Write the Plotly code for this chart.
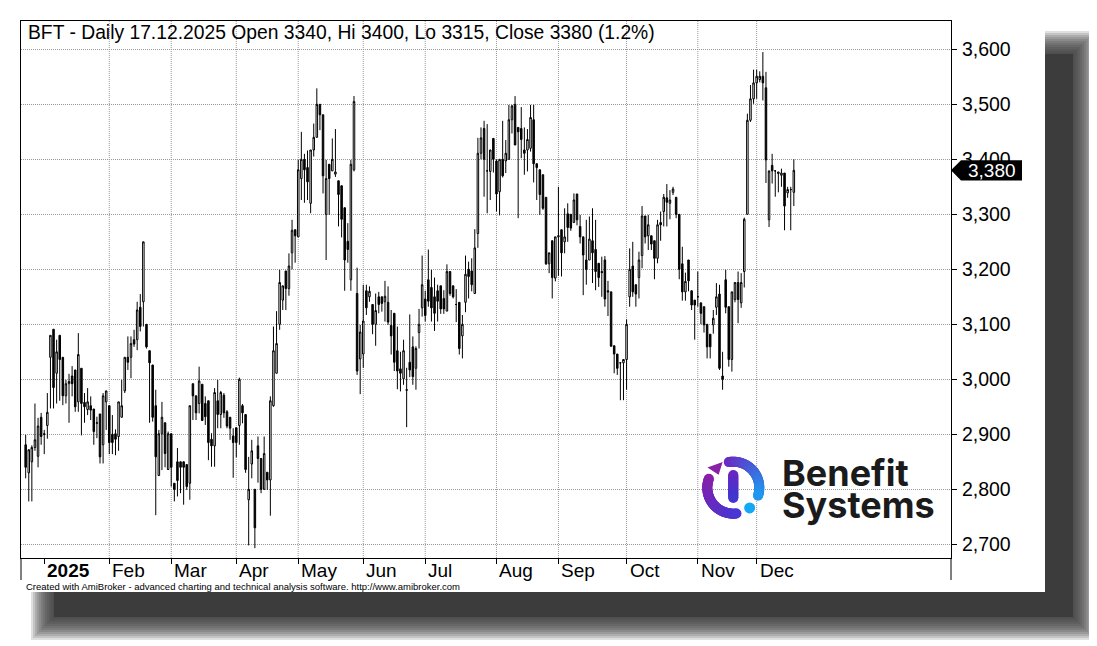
import numpy as np
import plotly.graph_objects as go

# daily OHLC, BFT, mid-Dec 2024 .. 17.12.2025 (one value per trading day)
opens = [
    2881, 2830, 2850, 2876, 2860, 2931, 2901, 2916, 3040, 3091,
    3011, 3080, 3040, 2970, 2992, 3006, 3017, 2959, 3020, 2958,
    2945, 2952, 2946, 2920, 2937, 2881, 2959, 2952, 2900, 2901,
    2896, 2931, 2979, 3040, 3040, 3072, 3072, 3131, 3141, 3100,
    3052, 3026, 2952, 2825, 2901, 2921, 2836, 2901, 2811, 2850,
    2850, 2850, 2845, 2811, 2992, 2970, 2956, 2991, 2956, 2961,
    2891, 2879, 2961, 2936, 2971, 2941, 2931, 2897, 2912, 2916,
    2952, 2936, 2781, 2846, 2800, 2879, 2856, 2800, 2831, 2817,
    2952, 3011, 3100, 3144, 3197, 3165, 3230, 3272, 3259, 3365,
    3400, 3385, 3320, 3417, 3440, 3500, 3481, 3300, 3391, 3379,
    3373, 3361, 3352, 3312, 3251, 3181, 3381, 3156, 3037, 3046,
    3161, 3150, 3136, 3100, 3150, 3150, 3141, 3140, 3098, 3120,
    3052, 3019, 3001, 2980, 3031, 3059, 3020, 3085, 3130, 3146,
    3181, 3167, 3150, 3161, 3170, 3147, 3124, 3196, 3170, 3136,
    3140, 3079, 3140, 3200, 3197, 3156, 3265, 3411, 3456, 3379,
    3378, 3438, 3397, 3341, 3400, 3397, 3400, 3472, 3500, 3458,
    3456, 3417, 3417, 3420, 3472, 3392, 3381, 3372, 3331, 3210,
    3252, 3184, 3259, 3272, 3250, 3301, 3300, 3285, 3337, 3278,
    3259, 3217, 3217, 3252, 3236, 3211, 3196, 3217, 3161, 3159,
    3061, 3046, 3030, 3030, 3036, 3150, 3206, 3172, 3185, 3225,
    3297, 3261, 3261, 3252, 3220, 3285, 3305, 3330, 3320, 3340,
    3331, 3300, 3210, 3159, 3217, 3161, 3144, 3150, 3139, 3132,
    3100, 3082, 3099, 3131, 3155, 3006, 3181, 3132, 3036, 3145,
    3176, 3139, 3196, 3300, 3471, 3510, 3539, 3545, 3551, 3530,
    3290, 3389, 3379, 3374, 3371, 3375, 3339, 3345, 3340,
]
highs = [
    2899, 2872, 2880, 2956, 2930, 2939, 2908, 2975, 3080, 3091,
    3072, 3080, 3040, 2999, 3010, 3024, 3017, 3084, 3020, 2975,
    2984, 2969, 2946, 2932, 2937, 2975, 2979, 2952, 2935, 2909,
    2959, 2999, 3040, 3078, 3078, 3090, 3141, 3155, 3250, 3100,
    3052, 3026, 2981, 2908, 2959, 2921, 2905, 2901, 2811, 2875,
    2850, 2850, 2845, 2952, 2992, 2970, 3023, 2991, 2969, 2961,
    2902, 2984, 2999, 2979, 2975, 2944, 2931, 2911, 2912, 3003,
    2955, 2936, 2859, 2890, 2800, 2896, 2856, 2896, 2831, 2969,
    3096, 3124, 3199, 3170, 3197, 3229, 3290, 3272, 3399, 3450,
    3410, 3416, 3417, 3465, 3529, 3500, 3481, 3399, 3391, 3438,
    3455, 3361, 3352, 3312, 3284, 3399, 3515, 3203, 3099, 3172,
    3172, 3169, 3136, 3156, 3159, 3150, 3179, 3169, 3126, 3120,
    3096, 3050, 3072, 3021, 3118, 3078, 3060, 3128, 3225, 3161,
    3236, 3199, 3185, 3172, 3170, 3162, 3209, 3196, 3170, 3164,
    3140, 3117, 3225, 3214, 3220, 3273, 3439, 3458, 3470, 3464,
    3417, 3438, 3400, 3400, 3470, 3435, 3499, 3499, 3515, 3458,
    3495, 3458, 3455, 3499, 3499, 3392, 3381, 3372, 3331, 3230,
    3252, 3259, 3350, 3272, 3311, 3320, 3300, 3338, 3337, 3299,
    3259, 3290, 3296, 3311, 3290, 3211, 3223, 3224, 3179, 3159,
    3061, 3046, 3030, 3036, 3109, 3238, 3250, 3172, 3232, 3315,
    3297, 3299, 3261, 3252, 3290, 3305, 3337, 3355, 3344, 3350,
    3331, 3300, 3241, 3194, 3217, 3161, 3144, 3196, 3139, 3132,
    3100, 3082, 3126, 3175, 3172, 3050, 3199, 3132, 3159, 3176,
    3196, 3193, 3294, 3483, 3535, 3563, 3563, 3560, 3595, 3559,
    3379, 3410, 3380, 3377, 3383, 3375, 3350, 3350, 3400,
]
lows = [
    2820, 2778, 2778, 2870, 2840, 2881, 2864, 2892, 2947, 2947,
    2956, 2961, 2953, 2956, 2921, 2969, 2941, 2941, 2898, 2921,
    2935, 2926, 2881, 2893, 2847, 2847, 2908, 2864, 2864, 2862,
    2870, 2931, 2975, 3017, 3002, 3059, 3053, 3087, 3096, 3056,
    2921, 2923, 2753, 2825, 2835, 2840, 2835, 2805, 2778, 2787,
    2793, 2772, 2799, 2781, 2926, 2926, 2938, 2925, 2917, 2853,
    2841, 2841, 2911, 2911, 2930, 2911, 2890, 2821, 2858, 2881,
    2920, 2830, 2698, 2820, 2693, 2812, 2793, 2799, 2799, 2752,
    2950, 3011, 3090, 3126, 3126, 3152, 3200, 3212, 3259, 3326,
    3321, 3326, 3302, 3405, 3440, 3453, 3338, 3217, 3299, 3379,
    3368, 3278, 3258, 3161, 3212, 3161, 3378, 3008, 2973, 3021,
    3117, 3141, 3082, 3061, 3120, 3123, 3105, 3099, 3045, 3015,
    2982, 2978, 2990, 2913, 3004, 2990, 2981, 3056, 3114, 3105,
    3132, 3105, 3088, 3105, 3119, 3119, 3124, 3152, 3147, 3104,
    3045, 3038, 3122, 3147, 3160, 3156, 3239, 3400, 3332, 3302,
    3326, 3376, 3305, 3298, 3367, 3375, 3400, 3447, 3426, 3293,
    3402, 3372, 3378, 3414, 3358, 3326, 3299, 3308, 3208, 3193,
    3147, 3178, 3188, 3187, 3229, 3250, 3270, 3285, 3280, 3247,
    3153, 3172, 3217, 3175, 3162, 3168, 3150, 3132, 3115, 3060,
    3011, 3008, 2962, 2962, 2981, 3132, 3150, 3132, 3147, 3202,
    3247, 3235, 3235, 3182, 3211, 3252, 3278, 3278, 3291, 3335,
    3293, 3182, 3143, 3143, 3160, 3126, 3072, 3132, 3100, 3085,
    3038, 3038, 3083, 3117, 3017, 2981, 3120, 3023, 3014, 3140,
    3102, 3130, 3167, 3300, 3468, 3501, 3510, 3540, 3507, 3357,
    3277, 3356, 3332, 3340, 3350, 3271, 3330, 3271, 3315,
]
closes = [
    2840, 2872, 2876, 2890, 2915, 2896, 2900, 2940, 3080, 2985,
    3050, 3036, 2970, 2992, 2996, 2992, 2950, 3045, 2956, 2950,
    2959, 2944, 2905, 2921, 2859, 2970, 2979, 2885, 2885, 2891,
    2959, 2952, 3040, 3031, 3065, 3064, 3126, 3096, 3250, 3059,
    3030, 2931, 2859, 2901, 2931, 2865, 2901, 2840, 2800, 2816,
    2840, 2840, 2805, 2952, 2970, 2939, 2997, 2925, 2932, 2885,
    2879, 2976, 2936, 2976, 2939, 2915, 2911, 2885, 2885, 3000,
    2939, 2836, 2800, 2870, 2730, 2856, 2800, 2865, 2817, 2961,
    3052, 3065, 3176, 3170, 3165, 3206, 3271, 3261, 3381, 3400,
    3381, 3359, 3417, 3440, 3500, 3481, 3370, 3365, 3365, 3400,
    3377, 3336, 3291, 3217, 3236, 3391, 3505, 3015, 3086, 3106,
    3130, 3160, 3100, 3125, 3136, 3138, 3151, 3104, 3079, 3031,
    3015, 3011, 3052, 2981, 3017, 3005, 3056, 3100, 3172, 3116,
    3142, 3130, 3120, 3142, 3128, 3128, 3196, 3156, 3150, 3136,
    3056, 3100, 3191, 3187, 3172, 3239, 3411, 3439, 3400, 3379,
    3417, 3400, 3337, 3400, 3370, 3411, 3472, 3497, 3426, 3450,
    3436, 3411, 3436, 3476, 3392, 3385, 3336, 3311, 3210, 3230,
    3185, 3259, 3261, 3230, 3259, 3276, 3275, 3326, 3290, 3259,
    3226, 3200, 3255, 3230, 3196, 3185, 3194, 3146, 3159, 3060,
    3046, 3020, 3030, 3036, 3100, 3200, 3159, 3155, 3217, 3297,
    3259, 3281, 3246, 3220, 3281, 3281, 3331, 3322, 3326, 3346,
    3300, 3200, 3159, 3178, 3179, 3135, 3135, 3150, 3120, 3099,
    3059, 3059, 3111, 3150, 3020, 3000, 3131, 3036, 3159, 3176,
    3145, 3176, 3291, 3471, 3510, 3539, 3551, 3551, 3539, 3399,
    3379, 3379, 3379, 3377, 3375, 3315, 3345, 3345, 3380,
]

# first trading day of each month (bar index) and its label
month_start = [6, 27, 47, 68, 88, 109, 129, 152, 172, 194, 217, 236]
month_label = ["<b>2025</b>", "Feb", "Mar", "Apr", "May", "Jun", "Jul",
               "Aug", "Sep", "Oct", "Nov", "Dec"]
price_ticks = [2700, 2800, 2900, 3000, 3100, 3200, 3300, 3400, 3500, 3600]
last_close = 3380
title_text = "BFT - Daily 17.12.2025 Open 3340, Hi 3400, Lo 3315, Close 3380 (1.2%)"
footer_text = ("Created with AmiBroker - advanced charting and technical analysis "
               "software. http://www.amibroker.com")

FONT = "Liberation Sans, Arial, sans-serif"
FS = 19
# the page body has an 8px margin, so the figure itself starts at (8, 8)
OFF = 8
# plot box in window pixels
L, R, T, B = 21, 951, 21, 558


def px(x):
    return (x - L) / (R - L)


def py(y):
    return (B - y) / (B - T)


bars = list(range(len(closes)))

fig = go.Figure()
fig.add_trace(go.Candlestick(
    x=bars, open=opens, high=highs, low=lows, close=closes,
    increasing=dict(line=dict(color="black", width=1), fillcolor="white"),
    decreasing=dict(line=dict(color="black", width=1), fillcolor="black"),
    whiskerwidth=0, hoverinfo="skip", showlegend=False))

# logo (drawn in pixel space on an overlay axis pair)
cx, cy, rad = 733.3, 487.7, 26


def arc(a0, a1, c0, c1, n):
    a = np.radians(np.linspace(a0, a1, n))
    return go.Scatter(
        x=cx + rad * np.cos(a), y=cy - rad * np.sin(a), mode="markers",
        xaxis="x2", yaxis="y2", hoverinfo="skip", showlegend=False,
        marker=dict(size=10, color=np.linspace(0, 1, n), cmin=0, cmax=1,
                    colorscale=[[0, c0], [1, c1]], line=dict(width=0)))


fig.add_trace(arc(160, 277, "#8a1fa8", "#4a36d2", 70))
fig.add_trace(arc(100, -18, "#6c28c2", "#2196ee", 70))
fig.add_trace(go.Scatter(
    x=[cx] * 30, y=np.linspace(475, 498, 30), mode="markers", xaxis="x2", yaxis="y2",
    hoverinfo="skip", showlegend=False,
    marker=dict(size=10, color=np.linspace(0, 1, 30), cmin=0, cmax=1,
                colorscale=[[0, "#6e26c0"], [1, "#4136cf"]], line=dict(width=0))))
a = np.radians(-51)
fig.add_trace(go.Scatter(
    x=[cx + rad * np.cos(a)], y=[cy - rad * np.sin(a)], mode="markers",
    xaxis="x2", yaxis="y2", hoverinfo="skip", showlegend=False,
    marker=dict(size=11, color="#14a8f4", line=dict(width=0))))
a = np.radians(131)
fig.add_trace(go.Scatter(
    x=[cx + rad * np.cos(a)], y=[cy - rad * np.sin(a)], mode="markers",
    xaxis="x2", yaxis="y2", hoverinfo="skip", showlegend=False,
    marker=dict(size=14, symbol="triangle-down", angle=-20, color="#8a1fa8",
                line=dict(width=0))))

shapes = []
# soft drop shadow behind the page: stacked translucent rects fake the blur
for e in range(-11, 13, 2):
    shapes.append(dict(type="rect", xref="paper", yref="paper", layer="below",
                       x0=px(42 - e), x1=px(1085 + e), y0=py(42 - e), y1=py(629 + e),
                       fillcolor="#363636", opacity=0.16, line=dict(width=0)))
shapes.append(dict(type="rect", xref="paper", yref="paper", layer="below",
                   x0=px(54), x1=px(1073), y0=py(54), y1=py(617),
                   fillcolor="#3c3c3c", line=dict(width=0)))
# the white chart page
shapes.append(dict(type="rect", xref="paper", yref="paper", layer="below",
                   x0=px(21), x1=px(1045), y0=py(21), y1=py(592),
                   fillcolor="white", line=dict(width=0)))
# vertical month grid (no grid at the year start)
for m in month_start[1:]:
    shapes.append(dict(type="line", xref="x", yref="paper", layer="below",
                       x0=m, x1=m, y0=0, y1=1,
                       line=dict(color="#9a9a9a", width=1, dash="1px,1px")))
# frame lines running down into the date strip
for xx in (0, 1):
    shapes.append(dict(type="line", xref="paper", yref="paper", x0=xx, x1=xx,
                       y0=0, y1=py(580), line=dict(color="black", width=1)))
# last price marker
shapes.append(dict(type="path", xref="paper", yref="paper", fillcolor="black",
                   line=dict(width=0),
                   path=(f"M{px(951)},{py(170.3)} L{px(961)},{py(160.3)} "
                         f"L{px(1022)},{py(160.3)} L{px(1022)},{py(180.5)} "
                         f"L{px(961)},{py(180.5)} Z")))

annotations = [
    dict(text=title_text, xref="paper", yref="paper", x=px(26), y=py(32.7),
         xanchor="left", yanchor="middle", showarrow=False,
         font=dict(family=FONT, size=19.3, color="black")),
    dict(text=footer_text, xref="paper", yref="paper", x=px(24), y=py(586.5),
         xanchor="left", yanchor="middle", showarrow=False,
         font=dict(family=FONT, size=9.5, color="black")),
    dict(text=f"{last_close:,}", xref="paper", yref="y", x=px(992), y=last_close,
         xanchor="center", yanchor="middle", showarrow=False,
         font=dict(family=FONT, size=FS, color="white")),
    dict(text="Benefit", xref="x2", yref="y2", x=780, y=473, xanchor="left",
         yanchor="middle", showarrow=False,
         font=dict(family="Inter", size=36, weight=700, color="#1b1b1b")),
    dict(text="Systems", xref="x2", yref="y2", x=780, y=505, xanchor="left",
         yanchor="middle", showarrow=False,
         font=dict(family="Inter", size=36, weight=700, color="#1b1b1b")),
]
for m, lab in zip(month_start, month_label):
    annotations.append(dict(text=lab, xref="x", yref="paper", x=m, y=py(570),
                            xanchor="left", yanchor="middle", xshift=1, showarrow=False,
                            font=dict(family=FONT, size=FS, color="black")))

fig.update_layout(
    width=1097 - OFF, height=646 - OFF, autosize=False,
    margin=dict(l=L - OFF, r=1097 - R, t=T - OFF, b=646 - B, pad=0),
    paper_bgcolor="white", plot_bgcolor="rgba(0,0,0,0)",
    font=dict(family=FONT, size=FS, color="black"),
    showlegend=False, boxgap=0.3,
    xaxis=dict(range=[-1.504, 298.74], showgrid=False, zeroline=False,
               showline=True, mirror=True, linecolor="black", linewidth=1,
               ticks="outside", ticklen=5, tickcolor="black", tickwidth=1,
               tickvals=month_start, showticklabels=False,
               rangeslider=dict(visible=False), fixedrange=True),
    yaxis=dict(range=[2675.1, 3651.5], side="right", tickvals=price_ticks,
               tickformat=",d", showgrid=True, gridcolor="#9a9a9a", griddash="1px,1px",
               gridwidth=1, zeroline=False, showline=True, mirror=True,
               linecolor="black", linewidth=1, ticks="outside", ticklen=5,
               tickcolor="black", ticklabelstandoff=1,
               tickfont=dict(family=FONT, size=19.5, color="black")),
    xaxis2=dict(overlaying="x", anchor="y2", range=[L, R], visible=False),
    yaxis2=dict(overlaying="y", anchor="x2", range=[B, T], visible=False),
    shapes=shapes, annotations=annotations,
)

fig.write_html("out.html")
